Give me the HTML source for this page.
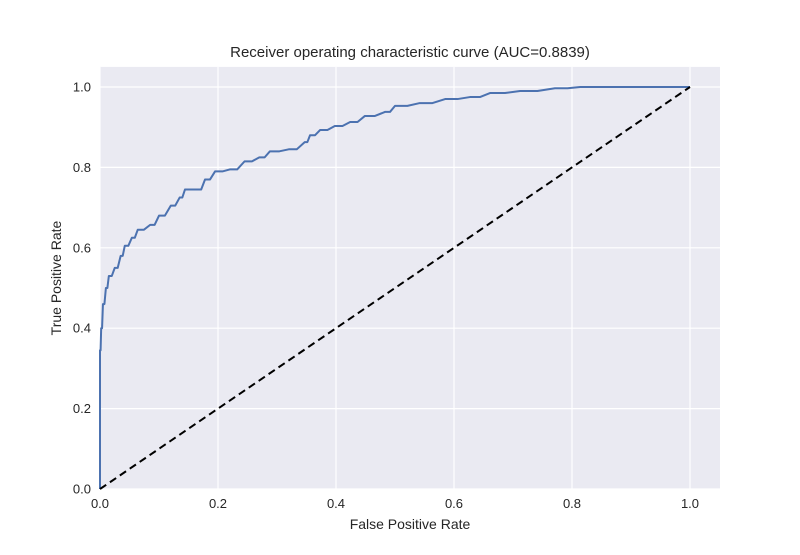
<!DOCTYPE html>
<html><head><meta charset="utf-8"><style>
body{margin:0;background:#fff;font-family:"Liberation Sans",sans-serif;}
svg text{font-family:"Liberation Sans",sans-serif;fill:#262626;}
</style></head><body>
<svg id="chart" width="800" height="550" viewBox="0 0 800 550" xmlns="http://www.w3.org/2000/svg">
<rect width="800" height="550" fill="#fff"/>
<rect x="100" y="66.9" width="620" height="422.1" fill="#eaeaf2"/>
<g id="grid"></g>
<g id="ticks"></g>
<text x="410" y="57" font-size="15" text-anchor="middle">Receiver operating characteristic curve (AUC=0.8839)</text>
<text x="410" y="529" font-size="14" text-anchor="middle">False Positive Rate</text>
<text x="61" y="278" font-size="14" text-anchor="middle" transform="rotate(-90 61 278)">True Positive Rate</text>
<g id="marks"></g>
</svg>
<script>
const fpr=[0,0,0.002,0.005,0.01,0.015,0.025,0.035,0.042,0.054,0.064,0.085,0.1,0.12,0.135,0.144,0.165,0.178,0.195,0.22,0.245,0.27,0.288,0.32,0.347,0.356,0.373,0.398,0.424,0.449,0.483,0.5,0.542,0.585,0.627,0.661,0.712,0.771,0.814,1];
const tpr=[0,0.345,0.4,0.46,0.5,0.53,0.55,0.58,0.605,0.625,0.645,0.657,0.68,0.705,0.725,0.745,0.745,0.77,0.79,0.795,0.815,0.825,0.84,0.845,0.863,0.88,0.893,0.903,0.913,0.928,0.938,0.953,0.96,0.97,0.975,0.985,0.99,0.997,1,1];
const xTicks=[0,0.2,0.4,0.6,0.8,1.0];
const yTicks=[0,0.2,0.4,0.6,0.8,1.0];
const NS="http://www.w3.org/2000/svg";
const X=v=>100+v*590, Y=v=>489-v*402;
function mk(tag,attrs,parent){const e=document.createElementNS(NS,tag);for(const k in attrs)e.setAttribute(k,attrs[k]);document.getElementById(parent).appendChild(e);return e;}
xTicks.forEach(t=>{
  const g=mk('line',{x1:X(t),x2:X(t),y1:66.9,y2:489,stroke:'#fff','stroke-width':1.2},'grid');
  
  
  const l=mk('text',{x:X(t),y:508,'font-size':13,'text-anchor':'middle'},'ticks');
  l.textContent=t.toFixed(1);
  
  
});
yTicks.forEach(t=>{
  const g=mk('line',{x1:100,x2:720,y1:Y(t),y2:Y(t),stroke:'#fff','stroke-width':1.2},'grid');
  
  
  const l=mk('text',{x:91,y:Y(t)+4.5,'font-size':13,'text-anchor':'end'},'ticks');
  l.textContent=t.toFixed(1);
  
  
});
let pts=[];
for(let i=0;i<fpr.length;i++){
  if(i>0){
    const mx=(fpr[i-1]+fpr[i])/2;
    pts.push(X(mx)+','+Y(tpr[i-1]));
    pts.push(X(fpr[i])+','+Y(tpr[i]));
  } else pts.push(X(fpr[i])+','+Y(tpr[i]));
}
const roc=mk('polyline',{points:pts.join(' '),fill:'none',stroke:'#4c72b0','stroke-width':2,'stroke-linejoin':'round'},'marks');


const diag=mk('line',{x1:X(0),y1:Y(0),x2:X(1),y2:Y(1),stroke:'#000','stroke-width':2,'stroke-dasharray':'7.5,4.5'},'marks');


</script>
</body></html>
